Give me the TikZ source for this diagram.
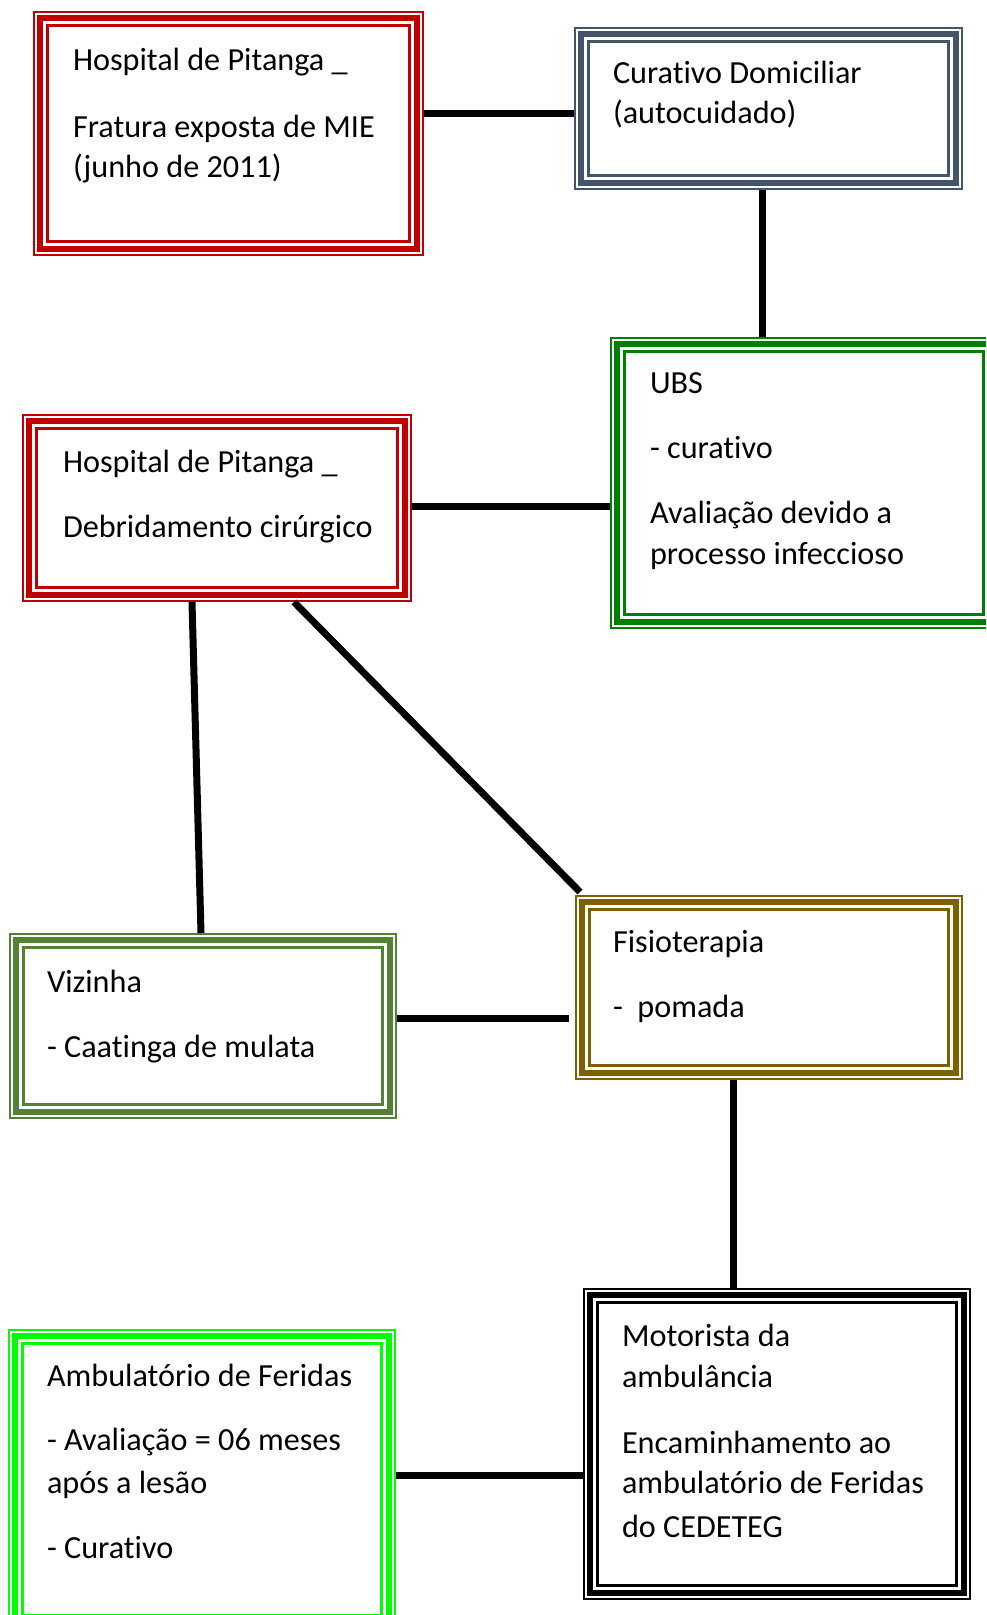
\documentclass[tikz,border=0pt]{standalone}
\usepackage{fontspec}
\setmainfont{Carlito}[Ligatures={NoCommon}]
\definecolor{cRed}{HTML}{C00000}
\definecolor{cSlate}{HTML}{44546A}
\definecolor{cGreen}{HTML}{008000}
\definecolor{cOlive}{HTML}{548235}
\definecolor{cGold}{HTML}{7F6000}
\definecolor{cLime}{HTML}{00FF00}
\definecolor{cBlack}{HTML}{000000}
\newcommand{\tribox}[6]{%
  \node[inner sep=0pt, outer sep=0pt, draw=none, rectangle, anchor=north west,
        minimum width={#4pt-#2pt}, minimum height={#5pt-#3pt}] (#1) at (#2,#3) {};
  \draw[#6, line width=2pt] ([shift={(1.1,1.1)}]#1.north west) rectangle ([shift={(-1.1,-1.1)}]#1.south east);
  \draw[#6, line width=5.5pt] ([shift={(7,7)}]#1.north west) rectangle ([shift={(-7,-7)}]#1.south east);
  \draw[#6, line width=2.5pt] ([shift={(14.5,14.5)}]#1.north west) rectangle ([shift={(-14.5,-14.5)}]#1.south east);
}
\tikzset{
  txt/.style={anchor=base west, inner sep=0pt, outer sep=0pt, font=\fontsize{32.2}{40}\selectfont, text=black},
  link/.style={draw=black, line width=7pt}
}
\begin{document}
\begin{tikzpicture}[x=1pt,y=-1pt]
\useasboundingbox (0,0) rectangle (986,1615);
\clip (0,0) rectangle (986,1615);
\fill[white] (0,0) rectangle (986,1615);
% boxes
\tribox{b1}{33}{11}{424}{256}{cRed}
\tribox{b2}{574}{27}{963}{190}{cSlate}
\tribox{b3}{610}{337}{998}{629}{cGreen}
\tribox{b4}{22}{414}{412}{602}{cRed}
\tribox{b5}{9}{933}{397}{1119}{cOlive}
\tribox{b6}{575}{895}{963}{1080}{cGold}
\tribox{b7}{8}{1329}{396}{1630}{cLime}
\tribox{b8}{583}{1288}{971}{1600}{cBlack}
% texts
\node[txt] (t1a) at (73,70) {Hospital de Pitanga \_};
\node[txt] (t1b) at (73,137) {Fratura exposta de MIE};
\node[txt] (t1c) at (73,177) {(junho de 2011)};
\node[txt] (t2a) at (613,83) {Curativo Domiciliar};
\node[txt] (t2b) at (613,123) {(autocuidado)};
\node[txt] (t3a) at (650,393) {UBS};
\node[txt] (t3b) at (650,458) {- curativo};
\node[txt] (t3c) at (650,523) {Avaliação devido a};
\node[txt] (t3d) at (650,564) {processo infeccioso};
\node[txt] (t4a) at (63,472) {Hospital de Pitanga \_};
\node[txt] (t4b) at (63,537) {Debridamento cirúrgico};
\node[txt] (t5a) at (47,992) {Vizinha};
\node[txt] (t5b) at (47,1057) {- Caatinga de mulata};
\node[txt] (t6a) at (613,952) {Fisioterapia};
\node[txt] (t6b) at (613,1017) {-\ \ pomada};
\node[txt] (t7a) at (47,1386) {Ambulatório de Feridas};
\node[txt] (t7b) at (47,1450) {- Avaliação = 06 meses};
\node[txt] (t7c) at (47,1493) {após a lesão};
\node[txt] (t7d) at (47,1558) {- Curativo};
\node[txt] (t8a) at (622,1346) {Motorista da};
\node[txt] (t8b) at (622,1387) {ambulância};
\node[txt] (t8c) at (622,1453) {Encaminhamento ao};
\node[txt] (t8d) at (622,1493) {ambulatório de Feridas};
\node[txt] (t8e) at (622,1537) {do CEDETEG};
% connectors
\draw[link] (b1.east |- 0,113) -- (b2.west |- 0,113);
\draw[link] (b2.south -| 762,0) -- (b3.north -| 762,0);
\draw[link] (b4.east |- 0,506) -- (b3.west |- 0,506);
\draw[link] (b4.south -| 192,0) -- (b5.north -| 201,0);
\draw[link] (b4.south -| 294,0) -- ([shift={(5,-3)}]b6.north west);
\draw[link] (b5.east |- 0,1018) -- ([shift={(-6,0)}]b6.west |- 0,1018);
\draw[link] (b6.south -| 733,0) -- (b8.north -| 733,0);
\draw[link] (b7.east |- 0,1475) -- (b8.west |- 0,1475);
\end{tikzpicture}
\end{document}
